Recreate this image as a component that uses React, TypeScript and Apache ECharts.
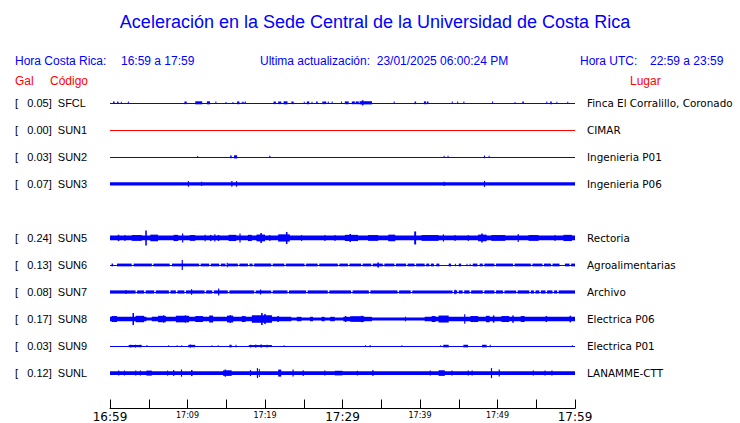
import React, { useEffect, useRef } from 'react';
import * as echarts from 'echarts';

// ---- axis / labels ----
const timeLabels = ['16:59', '17:09', '17:19', '17:29', '17:39', '17:49', '17:59'];
const majorTimeLabels = ['16:59', '17:29', '17:59'];
const codes = ['SFCL', 'SUN1', 'SUN2', 'SUN3', '', 'SUN5', 'SUN6', 'SUN7', 'SUN8', 'SUN9', 'SUNL'];
const galValues = [0.05, 0.0, 0.03, 0.07, null, 0.24, 0.13, 0.08, 0.17, 0.03, 0.12];
const places = ['Finca El Corralillo, Coronado', 'CIMAR', 'Ingenieria P01', 'Ingenieria P06', '', 'Rectoria', 'Agroalimentarias', 'Archivo', 'Electrica P06', 'Electrica P01', 'LANAMME-CTT'];

// ---- trace envelopes (trace units, 27 per row spacing) ----
const baseAmp = [0.6, 0.5, 0.6, 1.7, 0, 2.4, 1.4, 1.6, 2.2, 0.6, 1.9];
const quietAmp = [0.6, 0.5, 0.6, 1.7, 0, 2.4, 0.6, 0.6, 1.5, 0.6, 1.9];

// quiet stretches [start min, end min]
const sun6Gaps = [[0, 0.2], [0.4, 0.9], [2.8, 3.05], [5.4, 5.6], [7.7, 8.0], [11.5, 11.7], [12.8, 13.0], [14.1, 14.3], [14.9, 15.2], [16.5, 16.7], [17.8, 18.0], [18.4, 18.6], [20.8, 21.0], [22.5, 22.7], [25.1, 25.3], [26.8, 27.0], [29.4, 29.6], [30.7, 30.9], [32.4, 32.6], [33.7, 33.9], [35.2, 35.4], [36.7, 36.9], [38.2, 38.4], [39.3, 39.5], [40.6, 40.8], [41.2, 41.4], [41.8, 42.1], [42.5, 43.7], [44.0, 45.0], [45.3, 46.8], [47.4, 47.7], [48.1, 48.3], [49.6, 49.8], [52.0, 52.2], [54.3, 54.5], [55.8, 56.0], [56.9, 57.1], [58.0, 58.7], [59.3, 59.5]];
const sun7Gaps = [[3.3, 3.5], [4.4, 4.6], [5.7, 5.9], [7.6, 7.8], [8.5, 8.7], [9.6, 9.8], [12.2, 12.4], [13.2, 13.4], [15.2, 15.4], [18.6, 18.8], [20.8, 21.0], [22.9, 23.1], [25.3, 25.5], [28.1, 28.3], [31.1, 31.3], [33.4, 33.6], [37.1, 37.3], [38.8, 39.0], [44.2, 44.4], [44.8, 45.0], [45.5, 45.7], [46.4, 46.6], [48.1, 48.3], [49.6, 49.8], [50.7, 50.9], [52.4, 52.6], [54.1, 54.3], [54.7, 54.9], [55.4, 55.6], [56.2, 56.4], [57.1, 57.3], [57.7, 57.9]];
const sun8Gaps = [[4.7, 5.4], [23.4, 24.1], [24.7, 25.8], [26.2, 27.3], [27.7, 28.4], [29.0, 30.1], [33.8, 40.6]];

// bursts [start min, end min, amplitude]
const sfclBursts = [[0.4, 0.6, 1.2], [0.9, 1.1, 1.2], [1.4, 1.5, 1], [2.3, 2.4, 1.3], [9.6, 9.9, 1.3], [11.0, 11.9, 1.5], [12.5, 12.9, 1.5], [13.6, 13.7, 1.2], [14.9, 15.0, 0.9], [15.8, 15.9, 0.9], [16.4, 16.7, 1.4], [17.0, 17.1, 1], [17.2, 17.3, 1], [17.4, 17.5, 1.2], [21.1, 21.4, 1.3], [21.7, 22.1, 1.3], [22.4, 22.9, 1.5], [23.4, 23.7, 1.3], [25.0, 25.1, 1], [25.4, 25.7, 1.4], [26.0, 26.1, 1], [26.6, 26.8, 1.3], [27.4, 27.9, 1.3], [28.1, 28.2, 1.2], [28.6, 28.7, 1.2], [29.8, 29.9, 1.2], [30.3, 30.8, 1.4], [31.2, 31.6, 1.4], [31.7, 32.1, 1.4], [32.2, 33.8, 1.6], [32.5, 32.7, 2.6], [36.6, 36.7, 1.2], [39.3, 39.5, 1.3], [40.5, 40.8, 1.4], [40.9, 41.1, 1.3], [44.1, 44.2, 1.2], [44.8, 44.9, 1.2], [45.6, 45.7, 1.2], [49.3, 49.4, 1.2], [52.2, 52.3, 0.9], [53.2, 53.4, 1.3], [56.3, 56.4, 1.2], [56.8, 57.0, 1.4], [57.6, 57.7, 1], [59.0, 59.1, 1]];
const sun2Bursts = [[11.25, 11.35, 0.9], [15.5, 15.7, 1.3], [16.0, 16.4, 1.6], [20.55, 20.7, 1.2], [43.05, 43.15, 1.2], [43.55, 43.65, 1], [48.25, 48.4, 1.3], [48.85, 48.95, 1]];
const sun3Bursts = [[10.05, 10.2, 2.8], [11.75, 11.9, 2.1], [15.65, 15.8, 2.8], [16.25, 16.4, 2.8], [43.05, 43.2, 2.1], [48.25, 48.4, 3]];
const sun5Bursts = [[1.0, 1.2, 3.2], [1.85, 2.0, 3], [2.8, 4.1, 2.9], [4.55, 4.75, 7.5], [5.2, 6.2, 3.3], [8.2, 8.8, 3.1], [9.3, 9.45, 4.5], [10.3, 11.0, 2.9], [12.2, 12.35, 3.2], [12.9, 13.1, 3], [13.45, 13.6, 3.6], [13.9, 14.1, 3], [15.3, 16.3, 3.1], [16.7, 16.85, 4.5], [17.8, 18.3, 3.1], [18.9, 20.0, 3.4], [19.4, 19.6, 5], [20.55, 20.7, 3], [21.7, 23.2, 3.6], [22.7, 22.9, 6], [24.65, 24.8, 3], [27.65, 27.8, 3], [28.95, 29.1, 3], [30.3, 32.0, 3.1], [30.9, 31.1, 4], [33.3, 34.6, 2.9], [35.9, 36.8, 3.3], [39.25, 39.5, 6.5], [40.2, 42.4, 2.9], [42.95, 43.1, 3.6], [44.45, 44.6, 3], [46.15, 46.3, 3], [47.5, 48.6, 3.3], [47.9, 48.1, 4.5], [49.2, 51.0, 2.9], [52.6, 52.75, 4], [54.0, 55.3, 2.9], [57.35, 57.5, 3], [58.5, 59.6, 3.1]];
const sun6Bursts = [[9.25, 9.4, 5], [15.05, 15.2, 2.2], [34.5, 34.7, 2.5], [44.5, 44.6, 1.3], [46.0, 46.1, 1.3], [46.4, 46.5, 1.2]];
const sun7Bursts = [[2.0, 2.1, 2], [10.45, 10.6, 2.8], [13.95, 14.1, 3.6], [19.35, 19.5, 2.5], [44.45, 44.6, 2.2]];
const sun8Bursts = [[0.2, 0.9, 3], [2.9, 3.1, 6], [3.3, 4.4, 3.2], [6.2, 7.2, 3.2], [6.85, 7.0, 3.8], [8.5, 10.2, 3.3], [9.65, 9.8, 3.8], [11.0, 12.0, 3], [12.8, 13.3, 3.5], [15.1, 15.9, 3.4], [15.45, 15.6, 4], [17.0, 17.5, 3], [18.3, 20.9, 3.8], [19.5, 19.7, 6], [19.9, 20.1, 5], [21.6, 21.8, 3], [30.3, 30.5, 3], [31.0, 32.8, 2.8], [32.4, 32.6, 3.3], [38.05, 38.2, 2.3], [41.5, 42.0, 3], [42.4, 43.7, 3.5], [45.7, 45.85, 4.8], [46.5, 47.5, 3], [48.5, 49.0, 3.2], [49.4, 49.6, 3.6], [50.5, 51.5, 3], [51.9, 52.1, 3.6], [53.0, 53.5, 3], [56.2, 56.4, 3], [59.3, 59.5, 3.3]];
const sun9Bursts = [[2.4, 4.1, 1.1], [2.6, 2.75, 1.4], [3.2, 3.35, 1.4], [3.8, 3.95, 1.3], [4.7, 4.8, 1], [7.5, 7.6, 0.9], [8.6, 8.7, 0.9], [9.2, 9.3, 0.9], [10.1, 11.0, 1.2], [10.3, 10.45, 1.5], [13.1, 13.2, 0.9], [13.9, 14.0, 0.9], [15.4, 15.7, 1.3], [16.2, 16.3, 1.3], [17.9, 20.9, 1.0], [18.1, 18.25, 1.4], [18.7, 18.9, 1.4], [19.4, 19.6, 1.5], [20.2, 20.35, 1.4], [22.4, 22.5, 0.9], [32.9, 33.0, 0.9], [33.5, 33.6, 1.1], [37.6, 37.7, 0.8], [42.6, 42.7, 0.9], [43.0, 43.7, 1.3], [45.6, 46.2, 1.3], [48.0, 48.6, 1.3], [49.0, 49.1, 1.2], [59.6, 59.7, 0.9]];
const sunlBursts = [[1.05, 1.2, 2.5], [1.8, 1.9, 2.5], [3.25, 3.4, 2.5], [3.85, 4.0, 2.5], [4.7, 5.4, 2.5], [7.35, 7.5, 2.5], [8.15, 8.3, 3], [9.15, 9.3, 3.6], [10.45, 10.65, 3], [14.6, 15.7, 2.8], [14.8, 14.95, 3.6], [18.05, 18.2, 3], [18.95, 19.1, 5], [19.2, 19.3, 4], [21.7, 22.1, 3.5], [23.55, 23.7, 3.5], [24.85, 25.0, 2.8], [27.65, 27.8, 2.5], [29.0, 30.0, 2.3], [31.85, 32.0, 2.3], [33.85, 34.0, 3], [41.25, 41.4, 2.5], [42.4, 43.2, 2.8], [44.05, 44.2, 2.5], [46.15, 46.3, 2.5], [46.65, 46.8, 2.5], [49.15, 49.3, 5], [50.15, 50.3, 3.5], [54.55, 54.7, 2.5], [56.05, 56.2, 2.5], [56.95, 57.1, 2.5]];

const gapLists: Record<string, number[][]> = { SUN6: sun6Gaps, SUN7: sun7Gaps, SUN8: sun8Gaps };
const burstLists: Record<string, number[][]> = { SFCL: sfclBursts, SUN2: sun2Bursts, SUN3: sun3Bursts, SUN5: sun5Bursts, SUN6: sun6Bursts, SUN7: sun7Bursts, SUN8: sun8Bursts, SUN9: sun9Bursts, SUNL: sunlBursts };
const traceColors: Record<string, string> = { SUN1: '#ff0000' };

const AMP_PER_ROW = 27;
const T_MAX = 60;
const NBSP = '\u00a0';

function buildItems(row: number) {
  const code = codes[row];
  const items: number[][] = [];
  const gaps = gapLists[code] || [];
  if (gaps.length) {
    items.push([0, T_MAX, row, quietAmp[row]]);
    let t = 0;
    for (const [g0, g1] of gaps) {
      if (g0 > t) items.push([t, g0, row, baseAmp[row]]);
      t = g1;
    }
    if (t < T_MAX) items.push([t, T_MAX, row, baseAmp[row]]);
  } else {
    items.push([0, T_MAX, row, baseAmp[row]]);
  }
  for (const [b0, b1, a] of burstLists[code] || []) items.push([b0, b1, row, a]);
  return items;
}

export default function App() {
  const ref = useRef<HTMLDivElement>(null);
  useEffect(() => {
    if (!ref.current) return;
    const chart = echarts.init(ref.current, undefined, { renderer: 'svg' });
    const blue = '#0000ff';
    const red = '#ff0000';
    const series: any[] = [];
    codes.forEach((code, row) => {
      if (!code) return;
      const color = traceColors[code] || blue;
      series.push({
        type: 'custom',
        name: code,
        xAxisIndex: 0,
        yAxisIndex: 0,
        encode: { x: [0, 1], y: 2 },
        data: buildItems(row),
        renderItem: (params: any, api: any) => {
          const t0 = api.value(0), t1 = api.value(1), r = api.value(2), amp = api.value(3);
          const a = api.coord([t0, r]);
          const b = api.coord([t1, r]);
          const band = api.size([0, 1])[1];
          const h = (amp * band) / AMP_PER_ROW;
          let y0 = a[1] - h;
          let hh = 2 * h;
          if (h < 0.8) {
            // thin trace: draw as crisp 1px line
            y0 = Math.round(a[1]);
            hh = 1;
          }
          return {
            type: 'rect',
            shape: { x: a[0], y: y0, width: Math.max(b[0] - a[0], 1), height: hh },
            style: { fill: color, stroke: null, lineWidth: 0 },
          };
        },
      });
    });

    const headerFont = { fontFamily: 'Liberation Sans', fontSize: 12 };
    const text = (t: string, x: number, y: number, fill: string, extra: any = {}) => ({
      type: 'text',
      x,
      y,
      style: { text: t, fill, ...headerFont, verticalAlign: 'middle', align: 'left', ...extra },
    });

    chart.setOption({
      animation: false,
      grid: { left: 110, right: 165, top: 89.3, bottom: 35.6 },
      xAxis: {
        type: 'value',
        min: 0,
        max: T_MAX,
        interval: 5,
        offset: 21.9,
        axisLine: { show: true, onZero: false, lineStyle: { color: '#000', width: 1 } },
        axisTick: { show: true, inside: true, length: 9, lineStyle: { color: '#000', width: 1 } },
        splitLine: { show: false },
        axisLabel: {
          margin: 2,
          showMinLabel: true,
          showMaxLabel: true,
          hideOverlap: false,
          formatter: (v: number) => {
            if (v % 10 !== 0) return '';
            const lbl = timeLabels[v / 10];
            return majorTimeLabels.includes(lbl) ? `{big|${lbl}}` : `{small|${lbl}}`;
          },
          rich: {
            big: { fontFamily: 'DejaVu Sans', fontSize: 12, color: '#000', lineHeight: 13 },
            small: { fontFamily: 'DejaVu Sans', fontSize: 8, color: '#000', lineHeight: 9 },
          },
        },
      },
      yAxis: [
        {
          type: 'category',
          data: codes,
          inverse: true,
          axisLine: { show: false },
          axisTick: { show: false },
          splitLine: { show: false },
          axisLabel: {
            interval: 0,
            align: 'left',
            margin: 95,
            fontFamily: 'Liberation Sans',
            fontSize: 11,
            color: '#000',
            formatter: (v: string, i: number) => {
              const g = galValues[i];
              if (g == null) return '';
              return `[${NBSP}${NBSP}${NBSP}${g.toFixed(2)}]${NBSP}${NBSP}${v}`;
            },
          },
        },
        {
          type: 'category',
          position: 'right',
          data: places,
          inverse: true,
          axisLine: { show: false },
          axisTick: { show: false },
          splitLine: { show: false },
          axisLabel: {
            interval: 0,
            align: 'left',
            margin: 12,
            fontFamily: 'DejaVu Sans',
            fontSize: 10.4,
            color: '#000',
          },
        },
      ],
      series,
      graphic: [
        text('Aceleración en la Sede Central de la Universidad de Costa Rica', 375, 22, blue, { fontSize: 18, align: 'center' }),
        text('Hora Costa Rica:', 15, 61, blue),
        text('16:59 a 17:59', 121, 61, blue),
        text('Ultima actualización:  23/01/2025 06:00:24 PM', 260, 61, blue),
        text('Hora UTC:', 580, 61, blue),
        text('22:59 a 23:59', 650, 61, blue),
        text('Gal', 15, 81, red),
        text('Código', 50, 81, red),
        text('Lugar', 630, 81, red),
      ],
    });
    return () => chart.dispose();
  }, []);
  return <div ref={ref} style={{ position: 'fixed', left: 0, top: 0, width: 740, height: 423, background: '#fff' }} />;
}
